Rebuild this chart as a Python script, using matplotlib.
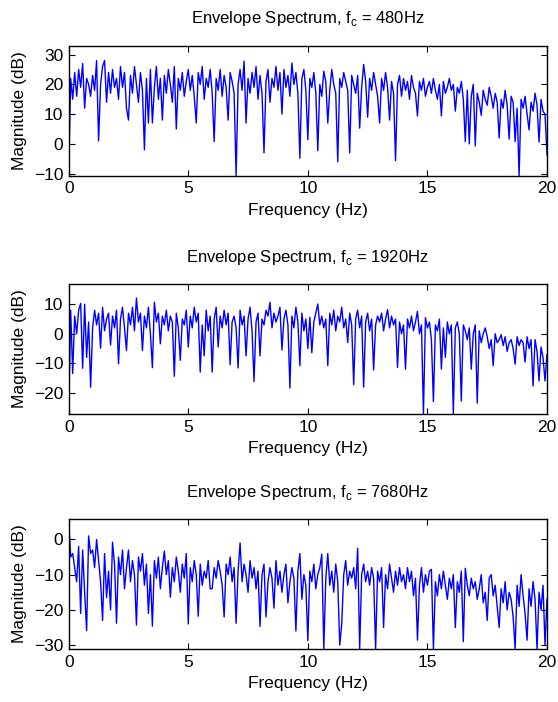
import matplotlib
matplotlib.use("Agg")
import matplotlib.pyplot as plt
import numpy as np

plt.rcParams['font.family'] = ['Liberation Sans', 'DejaVu Sans']
plt.rcParams['mathtext.fontset'] = 'custom'
plt.rcParams['mathtext.rm'] = 'Liberation Sans'

# envelope spectra (dB), 12 samples per Hz from 0 to 20 Hz
spec_480 = [
    -10.7, 22, 15, 24, 16, 25, 19, 27, 12, 22, 20, 16,
    23, 18, 28, 1, 20, 26, 28, 14, 24, 17, 25, 19,
    22, 15, 26, 19, 24, 12, 8, 23, 17, 26, 20, 14,
    24, 18, -2, 22, 7, 25, 7, 19, 26, 15, 22, 8,
    23, 17, 25, 20, 14, 26, 5, 22, 18, 24, 16, 21,
    25, 18, 23, 16, 7, 24, 20, 26, 15, 22, 19, 25,
    17, 0.8, 22, 18, 25, 16, 23, 19, 8, 24, 21, 17,
    -10.7, 20, 25, 18, 27.8, 7, 22, 17, 24, 19, 26, 15,
    23, 17, -3, 21, 25, 14, 22, 19, 26, 18, 24, 10,
    25, 19, 23, 16, 27.2, 20, 24, 17, -4.8, 22, 25, 18,
    1.4, 22, 19, 24, 17, -2.3, 20, 16, 24.4, 21, 7, 18,
    25, 20, 17, -6, 22, 19, 24, 21, 18, -3, 23, 20,
    17, 23, 5.3, 19, 26.7, 21, 9, 22, 18, 24, 20, 16,
    7, 22, 18, 24, 19, 8, 21, 17, -5.6, 20, 23, 16,
    22, 18, 21, 15, 23, 19, 17, 9.4, 21, 18, 22, 16,
    19, 21, 17, 22, 18, 15, 20, 9.4, 21, 17, 19, 22,
    18, 20, 11, 19, 17, 21, 15, 0.8, 18, 0, 16, 20,
    -0.7, 17, 14, 9.6, 18, 15, 13, 19, 16, 12, 17, 14,
    2, 15, 12, 18, 13, 1.6, 16, 14, 0.8, 12, -10.7, 15,
    12, 16, 10, 4.7, 14, 11, 17, 13, 0.6, 15, 11, 10,
    -3.7]

spec_1920 = [
    -27.2, 8, -13.5, 6, 0, 8, 10.3, -11.7, 10, -8, 4, -18.1,
    2, 8, 3, 7, -4.9, 9, 1, 5, 7, -3.8, 6, 2,
    8, -10.2, 5, 9, 2, -5.7, 7, 3, 9, 1, 12.1, 4,
    7, -5.7, 6, 2, 9, 0, -11.5, 10.7, 4, 7, -3.4, 6,
    3, 8, 1, 6, 4, -14.4, 7, 2, -9, 5, 3, 8,
    -4.5, 6, 2, 9, 4, 7, -13, 3, -7.5, 8, 1, 6,
    -13, 5, 9, -4.5, 6, 2, 8, 3, 7, -10.5, 4, 6,
    2, -11.6, 8, 3, 6, -7.5, 5, 9, 1, -16.2, 4, 7,
    -7.5, 5, 3, 8, 6, 10.7, 2, 7, 4, 6, 9, -5.5,
    5, 8, 3, -18.4, 6, 2, 9, 4, -10.8, 7, 1, 5,
    -5, 5.6, -6.4, 4, 7, 10.1, 3, 6, 2, 5, -10.8, 7,
    3, 8, 1, 6, 4, 9, 2, 5, -3, 7, 3, -17.3,
    5, 8, 2, 6, -18.1, 4, 7, 1, 5, -12.3, 3, 6,
    4, 7, 1, 5, 8.2, 2, 6, 3, 5, -11.4, 4, 0,
    3, -12, 5, 2, 6, 1, 4, 7.6, 0, 3, -27.2, 5.5,
    2, 4, -2, -23, 3, 1, 5, -12, 2, -8, 4, 0,
    3, -27.2, 2, 4, 0, -22.8, 3, 1, -2, 2, -12, 0,
    3, -23.5, 1, -3, 0, 2, -1, -5, -2, -10.8, 0, -3,
    -2, -0.3, -4, -1, -6, -3, -2, -5, -10.3, -1, -4, -2,
    -3, -9.6, -1, -5, -2, -17.7, -2, -6, -16, -4.5, -8, -16,
    -7]

spec_7680 = [
    5.8, -5, -4, -8, -12, -2, -21, -3, -15, -25.9, 1, -4,
    -3, -8, 0, -6, -12, -23, -4, -16.5, -9, -20, -0.8, -7,
    -23.8, -5, -10, -3, -14, -8, -3, -12, -6, -10, -24.3, -5,
    -9, -4, -13, -7, -21, -10, -24.6, -6, -11, -5, -14, -8,
    -3.3, -10, -6, -16.4, -8, -12, -5, -9, -15, -7, -11, -4,
    -24, -8, -12, -6, -10, -21.8, -7, -13, -9, -11, -6, -14,
    -14, -8, -11, -6, -9, -13, -22, -7, -10, -5, -12, -8,
    -23.8, -9, -1, -12, -7, -10, -15, -6, -11, -8, -14, -9,
    -24.7, -10, -7, -22, -12, -8, -11, -19.5, -6, -13, -9, -15,
    -10, -7, -18, -12, -8, -11, -26, -9, -4, -17, -10, -13,
    -28.7, -9, -12, -7, -14, -10, -8, -4.2, -31.1, -11, -4, -13,
    -9, -15, -7, -12, -30, -24, -10, -6, -13, -9, -11, -8,
    -14, -2.5, -31.1, -10, -7, -12, -9, -13, -8, -11, -31.1, -9,
    -12, -8, -25, -10, -14, -7, -11, -15, -9, -13, -8, -12,
    -10, -14, -8, -12, -9, -16, -11, -28.6, -13, -8, -15, -10,
    -13, -9, -8.5, -31.1, -12, -16, -10, -14, -9, -13, -17, -11,
    -14, -10, -25, -12, -15, -9, -29, -8.2, -13, -16, -11, -14,
    -12, -17, -14, -10, -18, -15, -23, -11, -10, -16, -13, -19,
    -25, -14, -18, -12, -20, -15, -17, -22, -31.1, -13, -19, -10,
    -16, -21, -28.6, -14, -19, -12, -17, -31.1, -15, -20, -13, -30,
    -17]

carriers = ['480', '1920', '7680']
spectra = [spec_480, spec_1920, spec_7680]
ylims = [(-10.7, 33.0), (-27.2, 16.9), (-31.1, 5.8)]
yticks = [[-10, 0, 10, 20, 30], [-20, -10, 0, 10], [-30, -20, -10, 0]]
xticks = [0, 5, 10, 15, 20]

fig = plt.figure(figsize=(5.58, 7.02), dpi=100)
bottoms = [0.7497, 0.4103, 0.0755]
for i in range(3):
    ax = fig.add_axes([0.1231, bottoms[i], 0.8572, 0.1852])
    y = np.array(spectra[i])
    f = np.linspace(0, 20, len(y))
    ax.plot(f, y, color='blue', linewidth=1.0)
    ax.set_xlim(0, 20)
    ax.set_ylim(*ylims[i])
    ax.set_xticks(xticks)
    ax.set_yticks(yticks[i])
    ax.tick_params(direction='in', top=True, right=True, length=4, labelsize=12.5, pad=4)
    for s in ax.spines.values():
        s.set_linewidth(1.0)
    ax.set_xlabel('Frequency (Hz)', fontsize=12.5, labelpad=5)
    ax.set_ylabel('Magnitude (dB)', fontsize=12.5, labelpad=5)
    ax.set_title(r'Envelope Spectrum, f$_\mathregular{c}$ = ' + carriers[i] + 'Hz', fontsize=12, pad=16)

fig.savefig('out.png', dpi=100)
